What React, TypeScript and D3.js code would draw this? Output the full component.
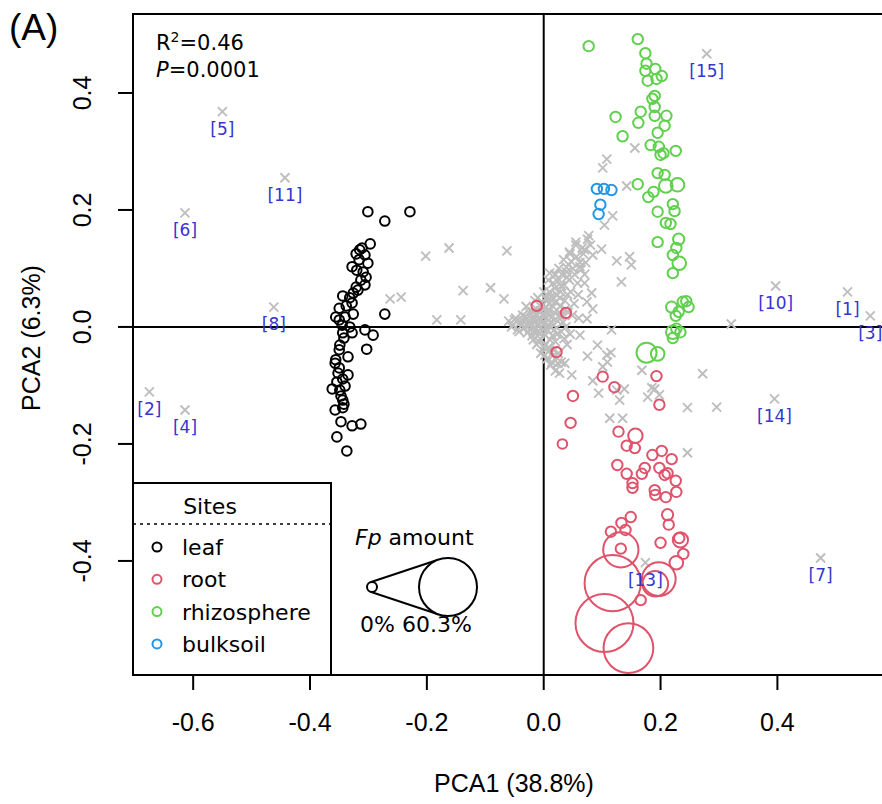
import React, { useEffect, useRef } from "react";
import * as d3 from "d3";

// chart size (plot box runs a bit past the right edge, as in the figure)
const W = 882;
const H = 804;
const box = { left: 133, top: 14, right: 896, bottom: 675 };

const xTicks = [-0.6, -0.4, -0.2, 0.0, 0.2, 0.4];
const yTicks = [-0.4, -0.2, 0.0, 0.2, 0.4];

const siteNames = ["leaf", "root", "rhizosphere", "bulksoil"];
const siteColors = ["#000000", "#DF536B", "#61D04F", "#2297E6"];

// [PCA1, PCA2, Fp amount %]
const leaf = [
  [-0.301, 0.197, 0], [-0.272, 0.181, 0], [-0.229, 0.197, 0], [-0.297, 0.142, 0], [-0.311, 0.135, 0],
  [-0.321, 0.125, 0], [-0.316, 0.115, 0], [-0.301, 0.109, 0], [-0.328, 0.103, 0], [-0.309, 0.094, 0],
  [-0.304, 0.085, 0], [-0.306, 0.072, 0], [-0.321, 0.068, 0], [-0.326, 0.058, 0], [-0.344, 0.053, 0],
  [-0.328, 0.041, 0], [-0.350, 0.032, 0], [-0.326, 0.022, 0], [-0.356, 0.017, 0], [-0.340, 0.017, 0],
  [-0.272, 0.022, 0], [-0.345, 0.003, 0], [-0.332, 0.0, 0], [-0.306, -0.005, 0], [-0.292, -0.014, 0],
  [-0.344, -0.010, 0], [-0.328, -0.010, 0], [-0.349, -0.031, 0], [-0.350, -0.039, 0], [-0.303, -0.038, 0],
  [-0.335, -0.051, 0], [-0.357, -0.062, 0], [-0.352, -0.079, 0], [-0.335, -0.082, 0], [-0.344, -0.089, 0],
  [-0.354, -0.094, 0], [-0.362, -0.106, 0], [-0.349, -0.108, 0], [-0.344, -0.125, 0], [-0.344, -0.138, 0],
  [-0.347, -0.162, 0], [-0.328, -0.169, 0], [-0.313, -0.166, 0], [-0.354, -0.188, 0], [-0.337, -0.212, 0],
  [-0.315, 0.132, 0], [-0.306, 0.123, 0], [-0.320, 0.097, 0], [-0.313, 0.080, 0], [-0.318, 0.063, 0],
  [-0.332, 0.050, 0], [-0.338, 0.036, 0], [-0.350, 0.012, 0], [-0.342, -0.019, 0], [-0.356, -0.056, 0],
  [-0.350, -0.070, 0], [-0.340, -0.101, 0], [-0.347, -0.118, 0], [-0.342, -0.132, 0], [-0.357, -0.142, 0],
];

const root = [
  [-0.012, 0.036, 1], [0.038, 0.024, 1], [0.022, -0.043, 1], [0.101, -0.085, 1], [0.121, -0.103, 1],
  [0.050, -0.118, 1], [0.193, -0.084, 1], [0.198, -0.133, 1], [0.046, -0.164, 1], [0.032, -0.200, 0],
  [0.128, -0.179, 1], [0.157, -0.186, 6], [0.142, -0.203, 1], [0.156, -0.207, 1], [0.186, -0.219, 1],
  [0.202, -0.212, 1], [0.219, -0.226, 1], [0.126, -0.236, 1], [0.173, -0.241, 1], [0.142, -0.251, 1],
  [0.168, -0.251, 1], [0.198, -0.241, 1], [0.207, -0.253, 1], [0.212, -0.250, 1], [0.152, -0.267, 1],
  [0.152, -0.275, 1], [0.226, -0.263, 1], [0.190, -0.279, 1], [0.191, -0.287, 1], [0.209, -0.291, 1],
  [0.227, -0.282, 1], [0.212, -0.321, 2], [0.214, -0.338, 1], [0.149, -0.325, 1], [0.133, -0.335, 1],
  [0.140, -0.347, 1], [0.115, -0.350, 1], [0.200, -0.369, 1], [0.234, -0.364, 7], [0.232, -0.361, 1],
  [0.239, -0.388, 1], [0.227, -0.403, 5], [0.132, -0.379, 1], [0.132, -0.381, 32], [0.118, -0.438, 58],
  [0.104, -0.506, 60.3], [0.145, -0.549, 50], [0.197, -0.431, 30], [0.191, -0.439, 20], [0.166, -0.467, 1],
];

const rhizosphere = [
  [0.077, 0.480, 1], [0.161, 0.492, 1], [0.174, 0.468, 1], [0.176, 0.450, 1], [0.174, 0.438, 1],
  [0.191, 0.441, 1], [0.202, 0.429, 1], [0.193, 0.424, 1], [0.178, 0.421, 1], [0.190, 0.395, 1],
  [0.186, 0.390, 1], [0.190, 0.376, 1], [0.166, 0.368, 1], [0.190, 0.361, 1], [0.210, 0.361, 1],
  [0.123, 0.359, 1], [0.162, 0.349, 1], [0.207, 0.344, 1], [0.195, 0.332, 1], [0.135, 0.326, 1],
  [0.183, 0.311, 1], [0.197, 0.308, 1], [0.200, 0.294, 1], [0.205, 0.297, 1], [0.226, 0.301, 1],
  [0.195, 0.263, 1], [0.207, 0.260, 1], [0.161, 0.244, 1], [0.209, 0.241, 5], [0.229, 0.243, 5],
  [0.188, 0.231, 1], [0.179, 0.222, 1], [0.221, 0.210, 1], [0.224, 0.198, 1], [0.195, 0.197, 1],
  [0.209, 0.178, 1], [0.217, 0.176, 1], [0.195, 0.145, 1], [0.231, 0.150, 2], [0.227, 0.135, 1],
  [0.221, 0.123, 1], [0.232, 0.109, 5], [0.221, 0.092, 1], [0.219, 0.034, 2], [0.238, 0.043, 1],
  [0.248, 0.034, 1], [0.231, 0.026, 1], [0.226, 0.019, 1], [0.244, 0.044, 1], [0.221, -0.009, 5],
  [0.234, -0.009, 1], [0.227, -0.003, 1], [0.221, -0.019, 1], [0.176, -0.044, 13], [0.195, -0.046, 5],
];

const bulksoil = [
  [0.091, 0.236, 1], [0.103, 0.236, 1], [0.116, 0.234, 1], [0.097, 0.209, 1], [0.094, 0.193, 1],
];

const sites = [leaf, root, rhizosphere, bulksoil];

// unlabelled variables (grey crosses)
const varsX = [
  -0.060, -0.052, -0.048, -0.045, -0.040, -0.036, -0.033, -0.030, -0.028, -0.025, -0.022, -0.020, -0.018,
  -0.015, -0.012, -0.010, -0.008, -0.006, -0.004, -0.002, 0.000, 0.002, 0.004, 0.005, 0.006, 0.008, 0.010,
  0.010, 0.012, 0.014, 0.015, 0.016, 0.018, 0.020, 0.020, 0.022, 0.024, 0.026, 0.028, 0.030, 0.030, 0.032,
  0.034, 0.036, 0.038, 0.040, 0.042, 0.045, 0.046, 0.050, 0.052, 0.055, 0.058, 0.060, 0.062, 0.066, 0.070,
  0.075, -0.005, 0.005, 0.012, 0.020, 0.030, 0.000, -0.012, 0.025, 0.040, 0.045, -0.030, -0.015, 0.000,
  0.008, -0.005, 0.018, 0.028,
  -0.055, -0.050, -0.042, -0.038, -0.035, -0.032, -0.027, -0.024, -0.021, -0.019, -0.016, -0.014, -0.011,
  -0.009, -0.007, -0.003, -0.001, 0.001, 0.003, 0.003, 0.007, 0.009, 0.009, 0.011, 0.013, 0.013, 0.016,
  0.017, 0.019, 0.021, 0.023, 0.024, 0.027, 0.029, 0.031, 0.033, 0.035, 0.037, 0.039, 0.041, 0.044, 0.047,
  0.049, 0.053, 0.056, 0.059, 0.064, 0.068, 0.072, 0.080, 0.002, 0.008, 0.015, 0.018, 0.024, -0.008, -0.018,
  0.035, 0.006, -0.010,
  -0.202, -0.162, -0.063, -0.263, -0.244, -0.138, -0.091, -0.068, -0.183, -0.142,
  0.156, 0.108, 0.101, 0.142, 0.118, 0.104, 0.077, 0.055, 0.044, 0.070, 0.099, 0.084, 0.125, 0.147,
  0.150, 0.062, 0.039, 0.019, 0.010, 0.133, 0.082, 0.070, 0.116, 0.321, 0.074, 0.084, 0.074, 0.062,
  0.092, 0.075, 0.108, 0.115, 0.109, 0.027, 0.048, 0.014, 0.036, 0.084, 0.101, 0.168, 0.125, 0.138,
  0.094, 0.130, 0.185, 0.198, 0.178, 0.190, 0.246, 0.296, 0.272, 0.113, 0.135, 0.246,
];
const varsY = [
  0.010, 0.004, 0.015, -0.005, 0.008, 0.020, -0.002, 0.012, -0.010, 0.025, 0.005, -0.015, 0.018,
  0.000, 0.030, -0.008, 0.012, -0.020, 0.040, 0.022, 0.005, -0.030, 0.050, 0.015, -0.005, 0.030, -0.040,
  0.060, 0.008, 0.045, -0.015, 0.075, 0.025, 0.090, -0.025, 0.055, 0.010, 0.100, 0.035, -0.008, 0.070, 0.020,
  0.115, 0.045, 0.000, 0.085, 0.025, 0.125, 0.060, 0.100, 0.040, 0.140, 0.075, 0.015, 0.110, 0.135, 0.090,
  0.150, -0.045, -0.055, -0.065, -0.075, -0.060, -0.035, -0.030, -0.045, -0.030, -0.012, 0.035, 0.045, 0.060,
  0.080, 0.028, -0.005, 0.050,
  0.000, 0.012, -0.008, 0.002, 0.010, 0.018, 0.004, -0.004, 0.014, 0.026, -0.006, 0.010, 0.020,
  0.002, -0.012, 0.012, -0.004, 0.018, 0.032, -0.014, 0.022, 0.040, 0.002, -0.022, 0.016, 0.052, 0.035,
  0.003, 0.066, 0.044, -0.012, 0.078, 0.020, 0.060, 0.090, 0.008, 0.072, 0.030, 0.102, 0.055, 0.080, 0.112,
  0.020, 0.090, 0.120, 0.055, 0.098, 0.125, 0.110, 0.140, -0.048, -0.035, -0.050, -0.040, -0.062, -0.025, -0.022,
  -0.020, 0.045, 0.050,
  0.121, 0.135, 0.130, 0.048, 0.051, 0.062, 0.067, 0.048, 0.012, 0.012,
  0.306, 0.287, 0.272, 0.241, 0.190, 0.174, 0.156, 0.145, 0.128, 0.132, 0.133, 0.123, 0.113, 0.120,
  0.106, 0.103, 0.094, 0.089, 0.092, 0.077, 0.058, 0.075, -0.005, 0.005, 0.043, 0.031, 0.014, -0.014,
  -0.031, -0.050, -0.048, -0.044, -0.060, -0.079, -0.082, -0.060, -0.062, -0.092, -0.068, -0.074, -0.108, -0.106,
  -0.113, -0.125, -0.104, -0.116, -0.120, -0.106, -0.138, -0.137, -0.080, -0.156, -0.156, -0.215,
];

// labelled variables
const taxaLabels = ["[1]", "[2]", "[3]", "[4]", "[5]", "[6]", "[7]", "[8]", "[10]", "[11]", "[13]", "[14]", "[15]"];
const taxaX = [0.520, -0.675, 0.559, -0.614, -0.550, -0.614, 0.474, -0.462, 0.397, -0.443, 0.174, 0.395, 0.279];
const taxaY = [0.060, -0.111, 0.019, -0.142, 0.368, 0.195, -0.395, 0.034, 0.070, 0.255, -0.403, -0.123, 0.467];

const fpRange = [0, 60.3];

const sans = "'Liberation Sans', Arial, sans-serif";
const dejavu = "'DejaVu Sans', Verdana, sans-serif";

function PcaPlot() {
  const ref = useRef<SVGSVGElement>(null);

  useEffect(() => {
    const svg = d3.select(ref.current).html("");

    const x = d3.scaleLinear().domain([-0.703, 0.603]).range([box.left, box.right]);
    const y = d3.scaleLinear().domain([-0.595, 0.535]).range([box.bottom, box.top]);
    const r = d3.scaleLinear().domain(fpRange).range([4.8, 29]);

    // zero lines
    svg.append("line")
      .attr("x1", box.left).attr("x2", box.right)
      .attr("y1", y(0)).attr("y2", y(0))
      .attr("stroke", "#000").attr("stroke-width", 2);
    svg.append("line")
      .attr("x1", x(0)).attr("x2", x(0))
      .attr("y1", box.top).attr("y2", box.bottom)
      .attr("stroke", "#000").attr("stroke-width", 2);

    // grey crosses
    const cross = "M-4.5,-4.5L4.5,4.5M-4.5,4.5L4.5,-4.5";
    const allX = varsX.concat(taxaX);
    const allY = varsY.concat(taxaY);
    svg.append("g")
      .selectAll("path")
      .data(allX.map((v, i) => [v, allY[i]]))
      .join("path")
      .attr("d", cross)
      .attr("transform", (d) => `translate(${x(d[0])},${y(d[1])})`)
      .attr("fill", "none")
      .attr("stroke", "#BEBEBE")
      .attr("stroke-width", 1.9);

    // site circles
    sites.forEach((pts, si) => {
      svg.append("g")
        .selectAll("circle")
        .data(pts)
        .join("circle")
        .attr("cx", (d) => x(d[0]))
        .attr("cy", (d) => y(d[1]))
        .attr("r", (d) => r(d[2]))
        .attr("fill", "none")
        .attr("stroke", siteColors[si])
        .attr("stroke-width", 2);
    });

    // labels for taxa
    svg.append("g")
      .selectAll("text")
      .data(taxaLabels)
      .join("text")
      .attr("x", (d, i) => x(taxaX[i]))
      .attr("y", (d, i) => y(taxaY[i]) + 23)
      .attr("text-anchor", "middle")
      .style("font-family", dejavu)
      .style("font-size", "17px")
      .attr("fill", "#3535d0")
      .text((d) => d);

    // box
    svg.append("rect")
      .attr("x", box.left).attr("y", box.top)
      .attr("width", box.right - box.left).attr("height", box.bottom - box.top)
      .attr("fill", "none").attr("stroke", "#000").attr("stroke-width", 2);

    // x axis
    const xa = svg.append("g");
    xa.selectAll("line").data(xTicks).join("line")
      .attr("x1", (d) => x(d)).attr("x2", (d) => x(d))
      .attr("y1", box.bottom).attr("y2", box.bottom + 15)
      .attr("stroke", "#000").attr("stroke-width", 2);
    xa.selectAll("text").data(xTicks).join("text")
      .attr("x", (d) => x(d)).attr("y", 731)
      .attr("text-anchor", "middle")
      .style("font-family", sans).style("font-size", "25px")
      .text((d) => d.toFixed(1));

    // y axis
    const ya = svg.append("g");
    ya.selectAll("line").data(yTicks).join("line")
      .attr("x1", box.left - 15).attr("x2", box.left)
      .attr("y1", (d) => y(d)).attr("y2", (d) => y(d))
      .attr("stroke", "#000").attr("stroke-width", 2);
    ya.selectAll("text").data(yTicks).join("text")
      .attr("transform", (d) => `translate(91,${y(d)}) rotate(-90)`)
      .attr("text-anchor", "middle")
      .style("font-family", sans).style("font-size", "25px")
      .text((d) => d.toFixed(1));

    // axis titles
    svg.append("text")
      .attr("x", 514).attr("y", 792)
      .attr("text-anchor", "middle")
      .style("font-family", sans).style("font-size", "25px")
      .text("PCA1 (38.8%)");
    svg.append("text")
      .attr("transform", "translate(40,338) rotate(-90)")
      .attr("text-anchor", "middle")
      .style("font-family", sans).style("font-size", "25px")
      .text("PCA2 (6.3%)");

    // panel tag
    svg.append("text")
      .attr("x", 9).attr("y", 40)
      .style("font-family", sans).style("font-size", "37px")
      .text("(A)");

    // stats
    const r2 = svg.append("text").attr("x", 156).attr("y", 50)
      .style("font-family", dejavu).style("font-size", "21px");
    r2.append("tspan").text("R");
    r2.append("tspan").attr("dy", -8).style("font-size", "14px").text("2");
    r2.append("tspan").attr("dy", 8).text("=0.46");
    const pv = svg.append("text").attr("x", 156).attr("y", 77)
      .style("font-family", dejavu).style("font-size", "21px");
    pv.append("tspan").style("font-style", "italic").text("P");
    pv.append("tspan").text("=0.0001");

    // sites legend
    const lg = svg.append("g");
    lg.append("rect")
      .attr("x", box.left).attr("y", 483).attr("width", 198).attr("height", box.bottom - 483)
      .attr("fill", "#fff").attr("stroke", "#000").attr("stroke-width", 2);
    lg.append("text").attr("x", 210).attr("y", 514)
      .attr("text-anchor", "middle")
      .style("font-family", dejavu).style("font-size", "22px")
      .text("Sites");
    lg.append("line")
      .attr("x1", box.left).attr("x2", 331).attr("y1", 524).attr("y2", 524)
      .attr("stroke", "#000").attr("stroke-width", 1.5).attr("stroke-dasharray", "3,4");
    siteNames.forEach((name, i) => {
      const yy = 555 + i * 32.3;
      lg.append("circle").attr("cx", 157).attr("cy", yy - 8).attr("r", 4.5)
        .attr("fill", "none").attr("stroke", siteColors[i]).attr("stroke-width", 2);
      lg.append("text").attr("x", 182).attr("y", yy)
        .style("font-family", dejavu).style("font-size", "22px")
        .text(name);
    });

    // Fp amount legend
    const fp = svg.append("g");
    const c1 = { x: 372, y: 587, r: 5 };
    const c2 = { x: 448, y: 587, r: r(fpRange[1]) };
    const sinT = (c2.r - c1.r) / (c2.x - c1.x);
    const cosT = Math.sqrt(1 - sinT * sinT);
    [-1, 1].forEach((s) => {
      fp.append("line")
        .attr("x1", c1.x - c1.r * sinT).attr("y1", c1.y + s * c1.r * cosT)
        .attr("x2", c2.x - c2.r * sinT).attr("y2", c2.y + s * c2.r * cosT)
        .attr("stroke", "#000").attr("stroke-width", 2);
    });
    fp.append("circle").attr("cx", c1.x).attr("cy", c1.y).attr("r", c1.r)
      .attr("fill", "#fff").attr("stroke", "#000").attr("stroke-width", 2);
    fp.append("circle").attr("cx", c2.x).attr("cy", c2.y).attr("r", c2.r)
      .attr("fill", "#fff").attr("stroke", "#000").attr("stroke-width", 2);
    const ft = fp.append("text").attr("x", 355).attr("y", 545)
      .style("font-family", dejavu).style("font-size", "22px");
    ft.append("tspan").style("font-style", "italic").text("Fp");
    ft.append("tspan").text(" amount");
    fp.append("text").attr("x", 360).attr("y", 632)
      .style("font-family", dejavu).style("font-size", "22px")
      .text("0% 60.3%");
  }, []);

  return <svg ref={ref} width={W} height={H} style={{ position: "absolute", left: 0, top: 0, background: "#fff" }}></svg>;
}

export default function App() {
  return <PcaPlot />;
}
